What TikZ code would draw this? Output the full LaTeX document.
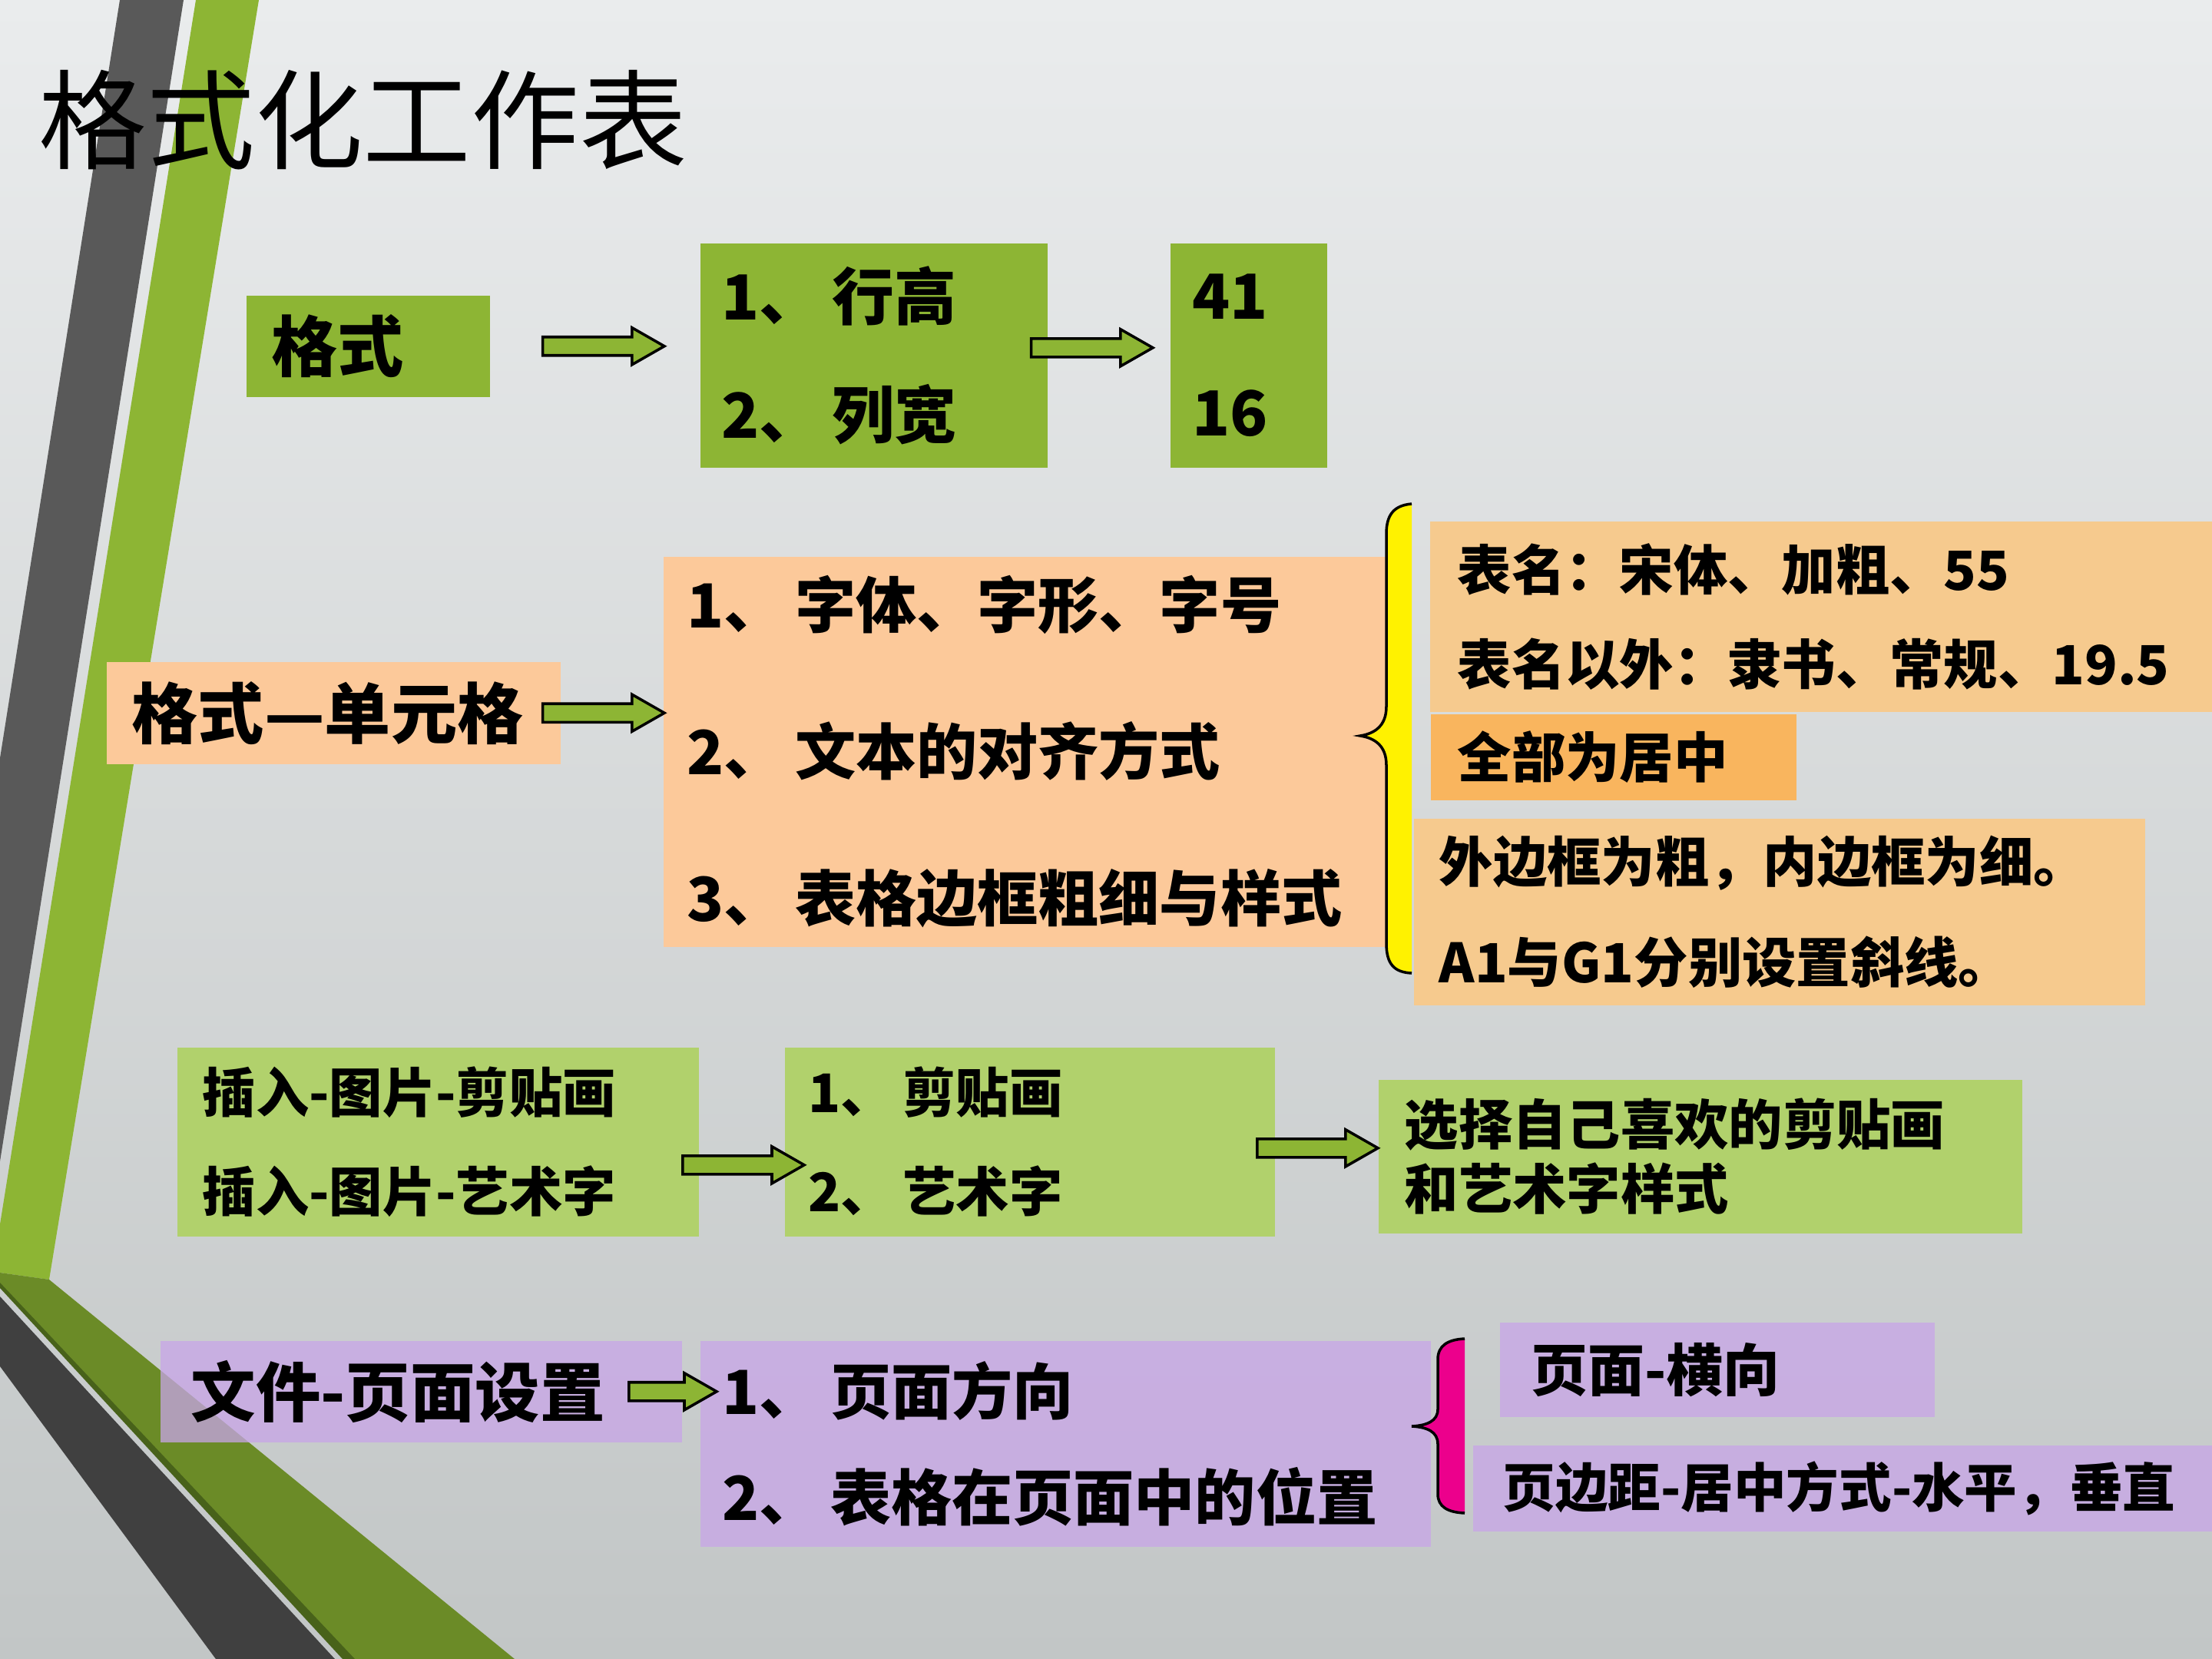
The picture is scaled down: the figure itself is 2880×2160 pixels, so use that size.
\documentclass[tikz,border=0pt]{standalone}
\usepackage{fontspec}
\setmainfont{Noto Sans CJK SC}
\usetikzlibrary{calc}

\definecolor{bgtop}{RGB}{234,236,237}
\definecolor{bgbot}{RGB}{194,198,198}
\definecolor{stripegray}{RGB}{89,89,89}
\definecolor{bandgray}{RGB}{64,64,64}
\definecolor{leafgreen}{RGB}{141,181,52}
\definecolor{olivegreen}{RGB}{107,139,39}
\definecolor{darkolive}{RGB}{72,98,26}
\definecolor{peach}{RGB}{252,201,154}
\definecolor{lightorange}{RGB}{246,202,142}
\definecolor{deeporange}{RGB}{249,181,94}
\definecolor{palegreen}{RGB}{177,209,108}
\definecolor{lavender}{RGB}{200,165,232}

\tikzset{
  box/.style={anchor=north west, inner ysep=0pt, align=left, text=black},
  blockarrow/.style={draw=black, fill=leafgreen, line width=1pt, line join=miter,
    to path={let \p1=(\tikztostart), \p2=(\tikztotarget) in
      (\x1,\y1+0.12cm) -- (\x2-0.42cm,\y1+0.12cm) -- (\x2-0.42cm,\y1+0.24cm) -- (\x2,\y1)
      -- (\x2-0.42cm,\y1-0.24cm) -- (\x2-0.42cm,\y1-0.12cm) -- (\x1,\y1-0.12cm) -- cycle}},
}

\begin{document}
\begin{tikzpicture}[x=0.01cm, y=-0.01cm]
\useasboundingbox (0,0) rectangle (2880,2160);
% background and the stripes on the left
\shade[top color=bgtop, bottom color=bgbot] (0,0) rectangle (2880,2160);
\fill[stripegray] (156,0) -- (239,0) -- (0,1512) -- (0,987) -- cycle;
\fill[leafgreen] (255,0) -- (337,0) -- (64,1666) -- (0,1657) -- (0,1594) -- cycle;
\fill[olivegreen] (0,1657) -- (64,1666) -- (670,2160) -- (452,2160) -- (0,1672) -- cycle;
\fill[darkolive] (0,1670) -- (462,2160) -- (446,2160) -- (0,1677) -- cycle;
\fill[bandgray] (0,1688) -- (436,2160) -- (281,2160) -- (0,1779) -- cycle;

\node[anchor=west, inner sep=0pt, font=\fontsize{40pt}{48pt}\selectfont] (title) at (50,156) {格式化工作表};

% row 1
\node[box, fill=leafgreen, minimum height=1.32cm, text width=2.51cm, inner xsep=0.33cm,
  font=\fontsize{24.5pt}{30pt}\selectfont\bfseries] (gs) at (320,384) {格式};
\node[box, fill=leafgreen, minimum height=2.92cm, text width=3.96cm, inner xsep=0.28cm,
  font=\fontsize{23pt}{44pt}\selectfont\bfseries] (hh) at (911,316) {1、\,行高\\2、\,列宽};
\node[box, fill=leafgreen, minimum height=2.92cm, text width=1.46cm, inner xsep=0.29cm,
  font=\fontsize{23pt}{43pt}\selectfont\bfseries] (nums) at (1523,316) {41\\16};

% row 2
\node[box, fill=peach, minimum height=1.33cm, text width=5.25cm, inner xsep=0.33cm,
  font=\fontsize{24.5pt}{30pt}\selectfont\bfseries] (dyg) at (138,861) {格式—单元格};
\node[box, fill=peach, minimum height=5.08cm, text width=8.81cm, inner xsep=0.31cm,
  font=\fontsize{22.5pt}{54.3pt}\selectfont\bfseries] (fmt) at (863,724)
  {1、\,字体、字形、字号\\2、\,文本的对齐方式\\3、\,表格边框粗细与样式};
\node[box, fill=lightorange, minimum height=2.48cm, text width=9.47cm, inner xsep=0.36cm,
  font=\fontsize{20pt}{35pt}\selectfont\bfseries] (tm) at (1861,678)
  {表名：宋体、加粗、55\\表名以外：隶书、常规、19.5};
\node[box, fill=deeporange, minimum height=1.12cm, text width=4.06cm, inner xsep=0.35cm,
  font=\fontsize{20pt}{24pt}\selectfont\bfseries] (qb) at (1862,929) {全部为居中};
\node[box, fill=lightorange, minimum height=2.43cm, text width=8.86cm, inner xsep=0.33cm,
  font=\fontsize{20pt}{37pt}\selectfont\bfseries] (wbk) at (1840,1065)
  {外边框为粗，内边框为细。\\A1与G1分别设置斜线。};

% row 3
\node[box, fill=palegreen, minimum height=2.46cm, text width=6.13cm, inner xsep=0.33cm,
  font=\fontsize{19.7pt}{36.7pt}\selectfont\bfseries] (cr) at (230,1363)
  {插入-图片-剪贴画\\插入-图片-艺术字};
\node[box, fill=palegreen, minimum height=2.46cm, text width=5.76cm, inner xsep=0.31cm,
  font=\fontsize{19.7pt}{36.7pt}\selectfont\bfseries] (jt) at (1021,1363) {1、\,剪贴画\\2、\,艺术字};
\node[box, fill=palegreen, minimum height=2cm, text width=7.7cm, inner xsep=0.34cm,
  font=\fontsize{20pt}{24pt}\selectfont\bfseries] (xz) at (1794,1405)
  {选择自己喜欢的剪贴画\\和艺术字样式};

% row 4
\node[box, fill=lavender, fill opacity=0.75, text opacity=1, minimum height=1.32cm, text width=5.99cm,
  inner xsep=0.4cm, font=\fontsize{24pt}{30pt}\selectfont\bfseries] (wj) at (208,1745) {文件-页面设置};
\node[box, fill=lavender, fill opacity=0.75, text opacity=1, minimum height=2.68cm, text width=8.93cm,
  inner xsep=0.29cm, font=\fontsize{22.5pt}{39.5pt}\selectfont\bfseries] (fx) at (911,1745)
  {1、\,页面方向\\2、\,表格在页面中的位置};
\node[box, fill=lavender, fill opacity=0.75, text opacity=1, minimum height=1.23cm, text width=4.84cm,
  inner xsep=0.41cm, font=\fontsize{21pt}{26pt}\selectfont\bfseries] (hx) at (1952,1721) {页面-横向};
\node[box, fill=lavender, fill opacity=0.75, text opacity=1, minimum height=1.12cm, text width=9.8cm,
  inner xsep=0.39cm, font=\fontsize{19.5pt}{24pt}\selectfont\bfseries] (ybj) at (1917,1881)
  {页边距-居中方式-水平，垂直};

% arrows
\draw[blockarrow] ([xshift=0.68cm]gs.east) to ([xshift=-0.46cm]hh.west);
\draw[blockarrow] ([xshift=-0.22cm, yshift=0.1cm]hh.east) to ([xshift=-0.22cm]nums.west);
\draw[blockarrow] ([xshift=-0.24cm]dyg.east) to ([xshift=0.02cm]fmt.west);
\draw[blockarrow] ([xshift=-0.22cm, yshift=-0.3cm]cr.east) to ([xshift=0.26cm]jt.west);
\draw[blockarrow] ([xshift=-0.24cm, yshift=-0.08cm]jt.east) to (xz.west);
\draw[blockarrow] ([xshift=-0.7cm]wj.east) to ([xshift=0.22cm]fx.west);

% braces
\draw[fill=yellow, line width=1pt] (1838,656) .. controls (1815,658) and (1805,670) .. (1805,695)
  -- (1805,920) .. controls (1805,945) and (1790,955) .. (1771,958)
  .. controls (1790,961) and (1805,971) .. (1805,996) -- (1805,1228)
  .. controls (1805,1255) and (1815,1266) .. (1838,1267);
\draw[fill=magenta, line width=1pt] (1907,1743) .. controls (1885,1744) and (1872,1752) .. (1872,1770)
  -- (1872,1835) .. controls (1872,1850) and (1858,1856) .. (1838,1857)
  .. controls (1858,1858) and (1872,1864) .. (1872,1880) -- (1872,1945)
  .. controls (1872,1962) and (1885,1969) .. (1907,1970);
\end{tikzpicture}
\end{document}
